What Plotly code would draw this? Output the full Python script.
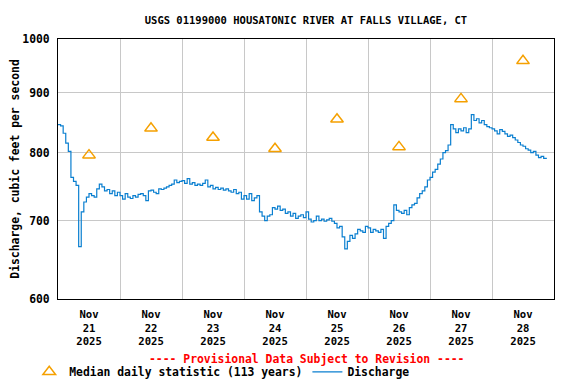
import pandas as pd
import plotly.graph_objects as go

title = "USGS 01199000 HOUSATONIC RIVER AT FALLS VILLAGE, CT"
y_title = "Discharge, cubic feet per second"

# Hourly discharge readings (cfs)
nov21 = [845, 843, 831, 815, 802, 762, 756, 750, 665, 712, 726, 733, 738, 735, 733, 745, 752, 748, 742, 744, 738, 742, 735, 740]
nov22 = [735, 730, 738, 733, 731, 735, 733, 737, 738, 735, 728, 742, 743, 740, 738, 745, 744, 746, 748, 750, 752, 758, 754, 756]
nov23 = [757, 753, 760, 752, 754, 750, 752, 750, 753, 758, 748, 750, 745, 747, 744, 746, 743, 745, 742, 740, 744, 738, 740, 730]
nov24 = [735, 730, 738, 728, 732, 735, 712, 706, 700, 706, 708, 718, 716, 720, 714, 716, 710, 712, 706, 710, 703, 706, 708, 704]
nov25 = [712, 702, 698, 700, 706, 700, 702, 699, 701, 703, 699, 696, 690, 692, 678, 662, 672, 680, 676, 682, 688, 686, 684, 692]
nov26 = [690, 684, 688, 686, 684, 688, 676, 692, 696, 700, 722, 714, 712, 710, 714, 708, 718, 722, 724, 732, 738, 742, 748, 758]
nov27 = [762, 770, 774, 782, 790, 800, 803, 812, 845, 838, 832, 838, 835, 840, 832, 838, 862, 852, 855, 848, 852, 845, 842, 840]
nov28 = [838, 835, 830, 837, 834, 830, 826, 828, 824, 820, 816, 812, 810, 806, 804, 800, 802, 796, 792, 794, 791, 792]

discharge = nov21 + nov22 + nov23 + nov24 + nov25 + nov26 + nov27 + nov28
times = pd.date_range("2025-11-21 00:00", periods=len(discharge), freq="h")

median_days = ["2025-11-21 12:00", "2025-11-22 12:00", "2025-11-23 12:00", "2025-11-24 12:00",
               "2025-11-25 12:00", "2025-11-26 12:00", "2025-11-27 12:00", "2025-11-28 12:00"]
median_vals = [796, 839, 824, 806, 854, 809, 889, 958]

tick_vals = median_days
tick_text = ["Nov<br>21<br>2025", "Nov<br>22<br>2025", "Nov<br>23<br>2025", "Nov<br>24<br>2025",
             "Nov<br>25<br>2025", "Nov<br>26<br>2025", "Nov<br>27<br>2025", "Nov<br>28<br>2025"]
y_ticks = [600, 700, 800, 900, 1000]

FONT = "DejaVu Sans Mono"
BLUE = "#0a7fd0"
ORANGE = "#f5a000"

fig = go.Figure()
fig.add_trace(go.Scatter(
    x=median_days, y=median_vals, mode="markers",
    name="Median daily statistic (113 years)",
    marker=dict(symbol="triangle-up-open", size=11, color=ORANGE, line=dict(width=1.5, color=ORANGE)),
))
fig.add_trace(go.Scatter(
    x=times, y=discharge, mode="lines", name="Discharge",
    line=dict(color=BLUE, width=1.2, shape="hv"),
))

# the page body adds an 8px offset, so the figure is 8px smaller than the window
fig.update_layout(
    width=568, height=376,
    margin=dict(l=50, r=22, t=31, b=85, autoexpand=False),
    paper_bgcolor="white", plot_bgcolor="white",
    title=dict(text=title, x=0.5246, xanchor="center", y=0.966, yanchor="middle",
               font=dict(family=FONT, size=10.5, color="black", weight="bold")),
    showlegend=True,
    legend=dict(orientation="h", x=-0.058, xanchor="left", y=-0.28, yanchor="middle",
                font=dict(family=FONT, size=11.4, color="black", weight="bold"),
                itemwidth=30, bgcolor="rgba(0,0,0,0)", borderwidth=0),
)

fig.update_xaxes(
    type="date", range=["2025-11-21 00:00", "2025-11-29 00:00"],
    tickmode="array", tickvals=tick_vals, ticktext=tick_text,
    ticks="", showgrid=False, automargin=False,
    tickfont=dict(family=FONT, size=10.6, color="black", weight="bold"),
    ticklabelstandoff=5,
    minor=dict(tickmode="linear", tick0="2025-11-21", dtick=86400000, showgrid=True,
               gridcolor="#c8c8c8", gridwidth=1, ticks=""),
    showline=True, linecolor="black", linewidth=1, mirror=True,
    zeroline=False,
)
fig.update_yaxes(
    type="log", range=[2.778151, 3.0], automargin=False,
    tickmode="array", tickvals=y_ticks, ticktext=[str(v) for v in y_ticks],
    ticks="", showgrid=True, gridcolor="#c8c8c8", gridwidth=1,
    tickfont=dict(family=FONT, size=11.4, color="black", weight="bold"),
    ticklabelstandoff=5,
    title=dict(text=y_title, font=dict(family=FONT, size=11.4, color="black", weight="bold"), standoff=8),
    showline=True, linecolor="black", linewidth=1, mirror=True,
    zeroline=False,
)

fig.add_annotation(
    text="---- Provisional Data Subject to Revision ----",
    xref="paper", yref="paper", x=0.5, y=-0.231, xanchor="center", yanchor="middle",
    showarrow=False, font=dict(family=FONT, size=11.4, color="#ff0000", weight="bold"),
)

fig.write_html("out.html")
